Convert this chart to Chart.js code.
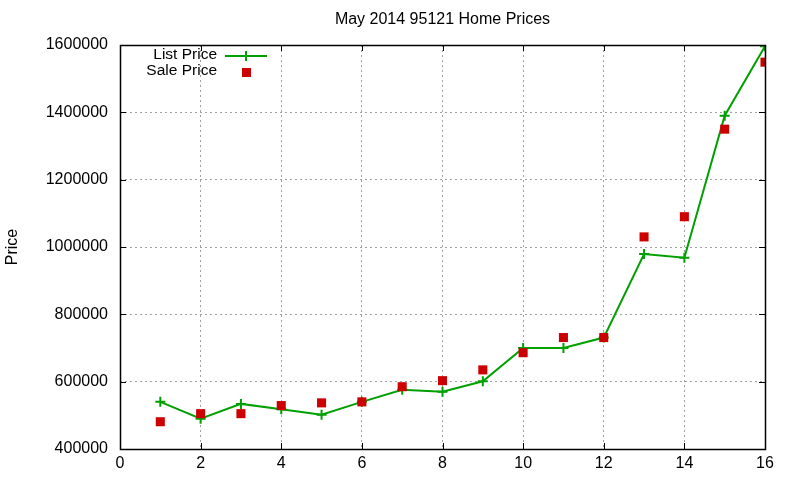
<!DOCTYPE html>
<html>
<head>
<meta charset="utf-8">
<script src="https://cdn.jsdelivr.net/npm/chart.js@4.4.1/dist/chart.umd.min.js"></script>
<style>
  html, body { margin: 0; padding: 0; background: #fff; }
  #wrap { width: 800px; height: 480px; }
</style>
</head>
<body>
<div id="wrap"><canvas id="priceChart"></canvas></div>
<script>
const chartTitle = "May 2014 95121 Home Prices";
const months = [1, 2, 3, 4, 5, 6, 7, 8, 9, 10, 11, 12, 13, 14, 15, 16];
const listPrice = [540000, 490000, 534000, 518000, 502000, 540000, 576000, 570000, 601000, 700000, 700000, 731000, 979000, 968000, 1390000, 1596000];
const salePrice = [481000, 505000, 505000, 529000, 537000, 540000, 585000, 603000, 635000, 686000, 731000, 731000, 1030000, 1090000, 1350000, 1549000];
const xTicks = [0, 2, 4, 6, 8, 10, 12, 14, 16];
const yTicks = [400000, 600000, 800000, 1000000, 1200000, 1400000, 1600000];

const GREEN = "#00a000";
const RED = "#cc0000";
const FONT = "'Liberation Sans', Arial, sans-serif";

// box frame, inward ticks, title and legend like gnuplot draws them
const gnuplotFrame = {
  id: "gnuplotFrame",
  afterDraw(chart) {
    const ctx = chart.ctx;
    const a = chart.chartArea;
    const xs = chart.scales.x;
    const ys = chart.scales.y;
    ctx.save();
    ctx.strokeStyle = "#000";
    ctx.lineWidth = 1;
    ctx.beginPath();
    xTicks.forEach((t) => {
      const px = Math.round(xs.getPixelForValue(t)) + 0.5;
      ctx.moveTo(px, a.bottom); ctx.lineTo(px, a.bottom - 6);
      ctx.moveTo(px, a.top); ctx.lineTo(px, a.top + 6);
    });
    yTicks.forEach((t) => {
      const py = Math.round(ys.getPixelForValue(t)) + 0.5;
      ctx.moveTo(a.left, py); ctx.lineTo(a.left + 6, py);
      ctx.moveTo(a.right, py); ctx.lineTo(a.right - 6, py);
    });
    ctx.stroke();
    ctx.lineWidth = 1.5;
    ctx.strokeRect(Math.round(a.left) + 0.5, Math.round(a.top) + 0.5,
      Math.round(a.right - a.left), Math.round(a.bottom - a.top));

    // title
    ctx.fillStyle = "#000";
    ctx.font = "16px " + FONT;
    ctx.textAlign = "center";
    ctx.textBaseline = "middle";
    ctx.fillText(chartTitle, (a.left + a.right) / 2, 20);

    // legend
    const ds = chart.data.datasets;
    ctx.font = "15.5px " + FONT;
    ctx.textAlign = "right";
    ctx.fillText(ds[0].label, 217, 55);
    ctx.fillText(ds[1].label, 217, 71);
    ctx.strokeStyle = GREEN;
    ctx.lineWidth = 2;
    ctx.beginPath();
    ctx.moveTo(225, 56); ctx.lineTo(267, 56);
    ctx.moveTo(246, 51); ctx.lineTo(246, 61);
    ctx.stroke();
    ctx.fillStyle = RED;
    ctx.fillRect(242, 68, 9, 9);
    ctx.restore();
  }
};

const ctx = document.getElementById("priceChart").getContext("2d");
const myChart = new Chart(ctx, {
  type: "line",
  data: {
    datasets: [
      {
        label: "List Price",
        data: months.map((m, i) => ({ x: m, y: listPrice[i] })),
        borderColor: GREEN,
        backgroundColor: GREEN,
        borderWidth: 2,
        pointStyle: "cross",
        pointRadius: 5,
        pointBorderWidth: 2,
        tension: 0,
        order: 2
      },
      {
        label: "Sale Price",
        data: months.map((m, i) => ({ x: m, y: salePrice[i] })),
        showLine: false,
        borderColor: RED,
        backgroundColor: RED,
        pointStyle: "rect",
        pointRadius: 6.4,
        pointBorderWidth: 0,
        order: 1
      }
    ]
  },
  options: {
    responsive: true,
    maintainAspectRatio: false,
    animation: false,
    events: [],
    layout: { padding: { top: 45, right: 35, left: 0, bottom: 0 } },
    plugins: {
      legend: { display: false },
      title: { display: false },
      tooltip: { enabled: false }
    },
    scales: {
      x: {
        type: "linear",
        min: 0,
        max: 16,
        afterBuildTicks: (scale) => { scale.ticks = xTicks.map((v) => ({ value: v })); },
        afterFit: (scale) => { scale.height = 31; },
        ticks: { color: "#000", font: { family: FONT, size: 16 }, padding: 5 },
        grid: { color: "#a0a0a0", lineWidth: 1, drawTicks: false },
        border: { display: false, dash: [2, 3] }
      },
      y: {
        type: "linear",
        min: 400000,
        max: 1600000,
        afterBuildTicks: (scale) => { scale.ticks = yTicks.map((v) => ({ value: v })); },
        afterFit: (scale) => { scale.width = 120; },
        ticks: {
          color: "#000",
          font: { family: FONT, size: 16 },
          padding: 12,
          callback: (v) => String(v)
        },
        title: {
          display: true,
          text: "Price",
          color: "#000",
          font: { family: FONT, size: 16 },
          padding: { top: 3, bottom: 0 }
        },
        grid: { color: "#a0a0a0", lineWidth: 1, drawTicks: false },
        border: { display: false, dash: [2, 3] }
      }
    }
  },
  plugins: [gnuplotFrame]
});
</script>
</body>
</html>
